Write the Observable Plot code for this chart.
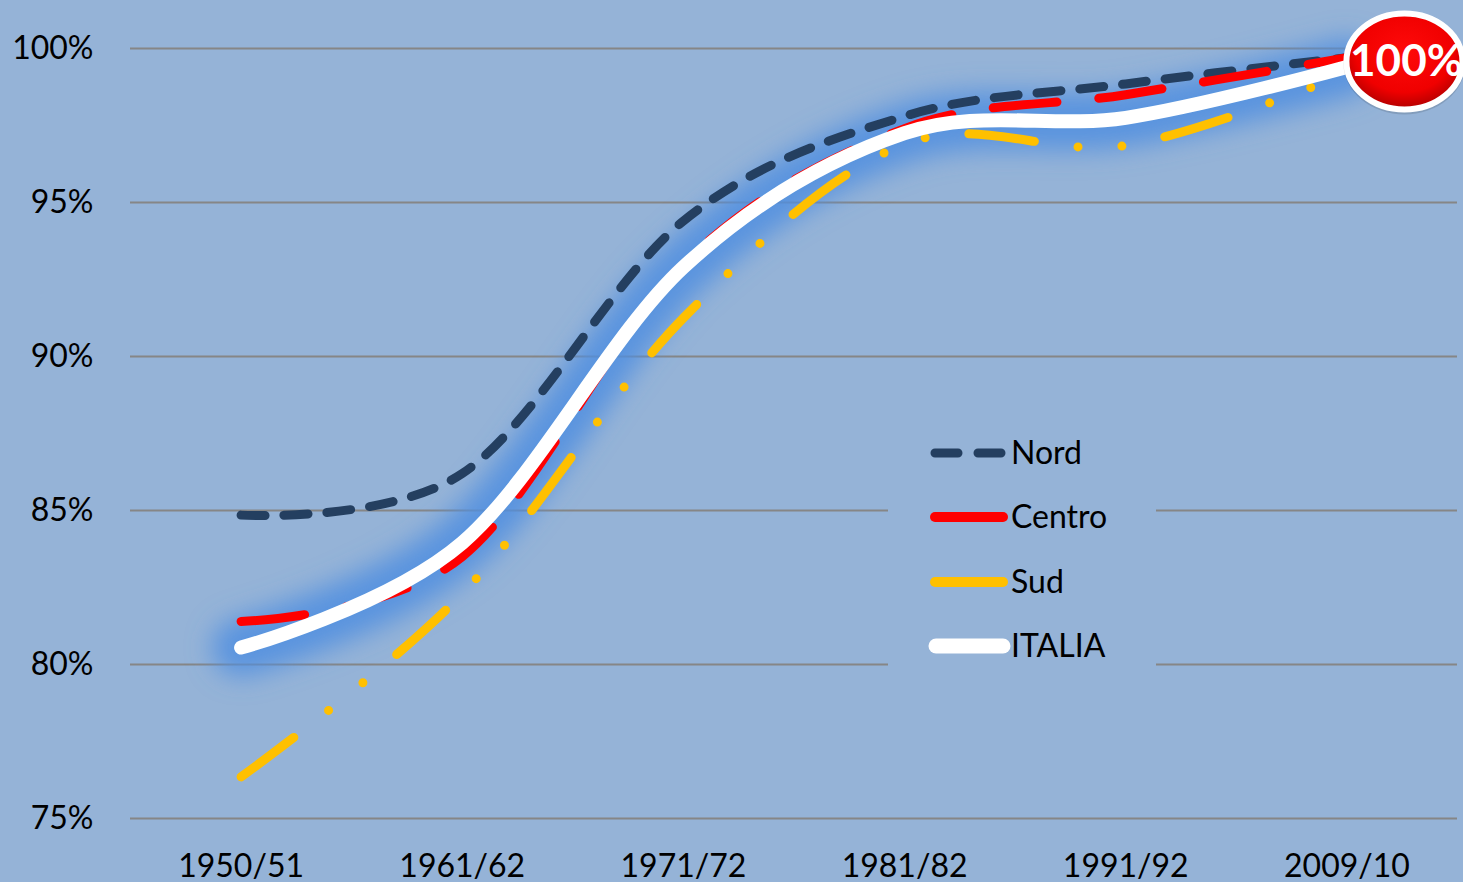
<!DOCTYPE html>
<html><head><meta charset="utf-8">
<script src="https://cdn.jsdelivr.net/npm/d3@7"></script>
<script src="https://cdn.jsdelivr.net/npm/@observablehq/plot@0.6"></script>
<style>
html,body{margin:0;padding:0;background:#95B3D7;overflow:hidden;}
#wrap{position:relative;width:1463px;height:882px;}
#wrap svg{display:block;}
#legend{position:absolute;left:0;top:0;pointer-events:none;}
</style></head><body><div id="wrap"></div>
<script>
// ---- data ----
const categories = ["1950/51", "1961/62", "1971/72", "1981/82", "1991/92", "2009/10"];
const nord   = [84.85, 86.2, 94.4, 97.8, 98.85, 99.7];
const centro = [81.4, 83.5, 93.0, 97.4, 98.5, 99.7];
const sud    = [76.35, 82.3, 91.25, 96.9, 96.85, 99.2];
const italia = [80.55, 83.95, 92.9, 97.25, 97.75, 99.4];
const seriesNames = ["Nord", "Centro", "Sud", "ITALIA"];
const yTicks = [75, 80, 85, 90, 95, 100];
const badgeLabel = "100%";

const seriesValues = {Nord: nord, Centro: centro, Sud: sud, ITALIA: italia};
const rowsOf = name => categories.map((c, i) => ({i, cat: c, serie: name, v: seriesValues[name][i]}));

const styles = {
  Nord:   {stroke: "#243F60", strokeWidth: 9, strokeDasharray: "24,19"},
  Centro: {stroke: "#FF0000", strokeWidth: 9, strokeDasharray: "64,42"},
  Sud:    {stroke: "#FFC000", strokeWidth: 9, strokeDasharray: "66,44,0,44,0,44"},
  ITALIA: {stroke: "#FFFFFF", strokeWidth: 14}
};

const lineMark = (name, extra) => Plot.line(rowsOf(name), {
  x: "i", y: "v", curve: "cardinal", tension: 0,
  strokeLinecap: "round", strokeLinejoin: "round",
  ...styles[name], ...(extra || {})
});

const badge = (index, scales) => {
  const n = categories.length - 1;
  const cx = scales.x(n) + 58, cy = scales.y(italia[n]) - 5;
  const g = d3.create("svg:g");
  const defs = g.append("defs");
  const rg = defs.append("radialGradient").attr("id", "badgeGrad").attr("cx", "50%").attr("cy", "40%").attr("r", "60%");
  rg.append("stop").attr("offset", "0%").attr("stop-color", "#FF0A0A");
  rg.append("stop").attr("offset", "70%").attr("stop-color", "#F00000");
  rg.append("stop").attr("offset", "100%").attr("stop-color", "#B00000");
  g.append("ellipse").attr("cx", cx).attr("cy", cy + 2).attr("rx", 61).attr("ry", 51).attr("fill", "#000").attr("opacity", 0.12);
  g.append("ellipse").attr("cx", cx).attr("cy", cy).attr("rx", 58).attr("ry", 48)
    .attr("fill", "url(#badgeGrad)").attr("stroke", "#FFFFFF").attr("stroke-width", 6);
  g.append("text").attr("x", cx + 2).attr("y", cy + 3).attr("text-anchor", "middle").attr("dominant-baseline", "middle")
    .attr("fill", "#FFFFFF").attr("font-family", "Lato, sans-serif").attr("font-weight", "bold").attr("font-size", 44)
    .text(badgeLabel);
  return g.node();
};

const chart = Plot.plot({
  width: 1463, height: 882,
  marginLeft: 130, marginRight: 6, marginTop: 48, marginBottom: 64,
  style: {background: "#95B3D7", fontFamily: "Lato, sans-serif", color: "#000", overflow: "visible"},
  x: {domain: [-0.5, categories.length - 0.5]},
  y: {domain: [75, 100]},
  marks: [
    Plot.ruleY(yTicks, {stroke: "#868686", strokeWidth: 2, strokeOpacity: 1}),
    Plot.axisY({ticks: yTicks, tickSize: 0, tickPadding: 37, fontSize: 32, tickFormat: d => d + "%", label: null}),
    Plot.axisX({ticks: d3.range(categories.length), tickSize: 0, tickPadding: 36, fontSize: 32, tickFormat: i => categories[i], label: null}),
    lineMark("ITALIA", {stroke: "#4F8EE0", strokeWidth: 58, strokeOpacity: 0.85}),
    lineMark("Nord"),
    lineMark("Centro"),
    lineMark("Sud"),
    lineMark("ITALIA"),
    badge
  ]
});

document.getElementById("wrap").appendChild(chart);

// glow filter for the wide blue line under ITALIA
const svgSel = d3.select(chart);
const fdefs = svgSel.insert("defs", ":first-child");
fdefs.append("filter").attr("id", "glowBlur").attr("filterUnits", "userSpaceOnUse")
  .attr("x", 0).attr("y", 0).attr("width", 1463).attr("height", 882)
  .append("feGaussianBlur").attr("stdDeviation", 13);
svgSel.selectAll('[stroke-width="58"]').attr("filter", "url(#glowBlur)");

// ---- legend ----
const leg = d3.create("svg").attr("id", "legend").attr("width", 1463).attr("height", 882);
leg.append("rect").attr("x", 888).attr("y", 425).attr("width", 268).attr("height", 262).attr("fill", "#95B3D7");
const rowY = [453, 517, 582, 646];
seriesNames.forEach((name, k) => {
  const y = rowY[k];
  const st = styles[name];
  const ln = leg.append("line").attr("y1", y).attr("y2", y).attr("stroke", st.stroke).attr("stroke-linecap", "round");
  if (name === "Nord") ln.attr("x1", 935).attr("x2", 1001).attr("stroke-width", 9).attr("stroke-dasharray", "23,20");
  else if (name === "ITALIA") ln.attr("x1", 936).attr("x2", 1003).attr("stroke-width", 15);
  else ln.attr("x1", 935).attr("x2", 1003).attr("stroke-width", 10);
  leg.append("text").attr("x", 1011).attr("y", y + 11).attr("font-family", "Lato, sans-serif").attr("font-size", 32)
    .attr("fill", "#000").text(name);
});
document.getElementById("wrap").appendChild(leg.node());
</script>
</body></html>
